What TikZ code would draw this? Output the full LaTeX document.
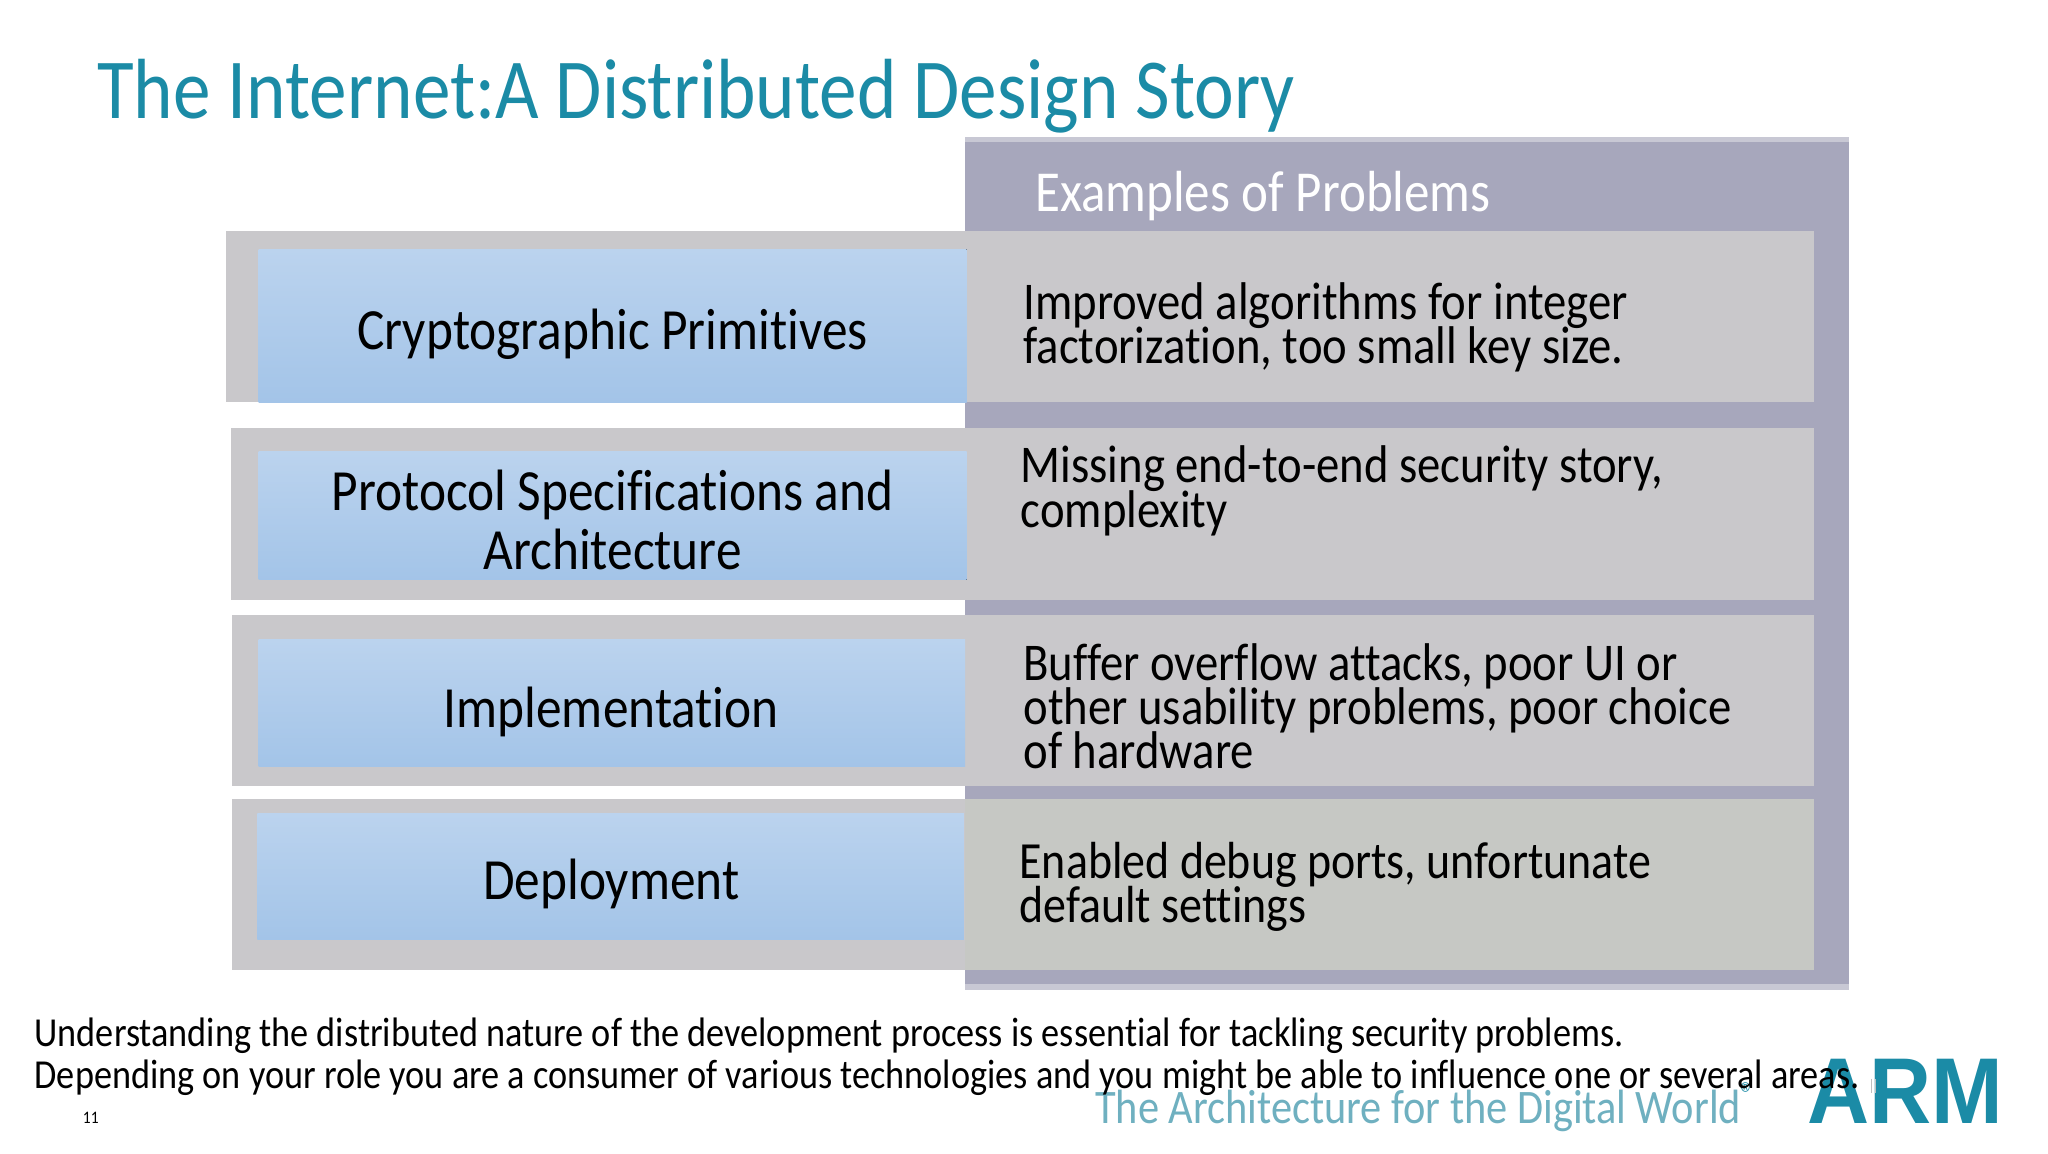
\documentclass[tikz,border=0pt]{standalone}
\usepackage{fontspec}
\setmainfont[Ligatures=NoCommon,FakeStretch=0.88]{Carlito}
\newfontfamily\logofont[FakeStretch=0.92]{Liberation Sans}
\newcommand\tightlines{\lineskiplimit-20pt\relax}
\definecolor{titleteal}{HTML}{1B8BA6}
\definecolor{panelpurple}{HTML}{A7A7BC}
\definecolor{paneledge}{HTML}{C8C8D4}
\definecolor{rowgray}{HTML}{C9C8CB}
\definecolor{rowgreen}{HTML}{C6C8C4}
\definecolor{bluetop}{HTML}{BBD3EE}
\definecolor{bluebottom}{HTML}{A3C4E8}
\definecolor{tagteal}{HTML}{6FB0C0}
\tikzset{
	rowlabel/.style={align=center,font=\fontsize{16.6}{17}\selectfont,black},
	rowtext/.style={anchor=north west,align=left,inner sep=0pt,font=\fontsize{15.1}{12.6}\selectfont\tightlines,black},
	bluebox/.style={top color=bluetop,bottom color=bluebottom,draw=none},
	notetext/.style={anchor=base west,inner sep=0pt,font=\fontsize{11.72}{14}\selectfont,black}
}
\begin{document}
\begin{tikzpicture}[x=0.0130612cm,y=-0.0130612cm]
		\useasboundingbox (0,0) rectangle (1568,883);
		\fill[white] (0,0) rectangle (1568,883);
		% panel behind the right column
		\fill[paneledge] (739,105) rectangle (1416,758);
		\fill[panelpurple] (739,109) rectangle (1416,753);
		% gray rows
		\fill[rowgray] (173,177) rectangle (1389,308);
		\fill[rowgray] (177,328) rectangle (1389,459);
		\fill[rowgray] (178,471) rectangle (1389,602);
		\fill[rowgray] (178,612) rectangle (739,743);
		\fill[rowgreen] (739,612) rectangle (1389,743);
		% blue boxes
		\fill[bluebox] (198,191) rectangle (740,308);
		\fill[bluebox] (198,346) rectangle (740,444);
		\fill[bluebox] (198,490) rectangle (739,587);
		\fill[bluebox] (197,623) rectangle (738,719);
		\node[anchor=base west,inner sep=0pt,titleteal,font=\fontsize{24.3}{24}\selectfont] (title) at (74,91) {The Internet:A Distributed Design Story};
		\node[anchor=base west,inner sep=0pt,white,font=\fontsize{16.5}{16.5}\selectfont] (header) at (792,162) {Examples of Problems};
		\node[rowlabel] (crypto) at (469,256) {Cryptographic Primitives};
		\node[rowlabel] (protocol) at (469,398) {Protocol Specifications and\\Architecture};
		\node[rowlabel] (impl) at (468,545) {Implementation};
		\node[rowlabel] (deploy) at (468,677) {Deployment};
		\node[rowtext] (problemA) at (783,216) {Improved algorithms for integer\\factorization, too small key size.};
		\node[rowtext] (problemB) at (781,341) {Missing end-to-end security story,\\complexity};
		\node[rowtext] (problemC) at (783,492) {Buffer overflow attacks, poor UI or\\other usability problems, poor choice\\of hardware};
		\node[rowtext,font=\fontsize{14.85}{12.6}\selectfont\tightlines] (problemD) at (780,644) {Enabled debug ports, unfortunate\\default settings};
		\node[anchor=base west,inner sep=0pt,black,font=\fontsize{5}{5}\selectfont] (pagenum) at (63,860) {11};
		\node[anchor=base west,inner sep=0pt,tagteal,font=\fontsize{13.7}{13}\selectfont] (tagline) at (838,860) {The Architecture for the Digital World};
		\node[anchor=base west,inner sep=0pt,titleteal,font=\fontsize{9}{9}\selectfont] (regmark) at (1332,846) {®};
		\node[anchor=base west,inner sep=0pt,titleteal,font=\logofont\fontsize{26.6}{26}\bfseries\selectfont] (logo) at (1383,860) {ARM};
		\draw[gray!50,thin] (1433,826)--(1433,837) (1436,826)--(1436,837);
		\node[notetext] (noteA) at (26,801) {Understanding the distributed nature of the development process is essential for tackling security problems.};
		\node[notetext] (noteB) at (26,833) {Depending on your role you are a consumer of various technologies and you might be able to influence one or several areas.};
		\end{tikzpicture}
\end{document}
